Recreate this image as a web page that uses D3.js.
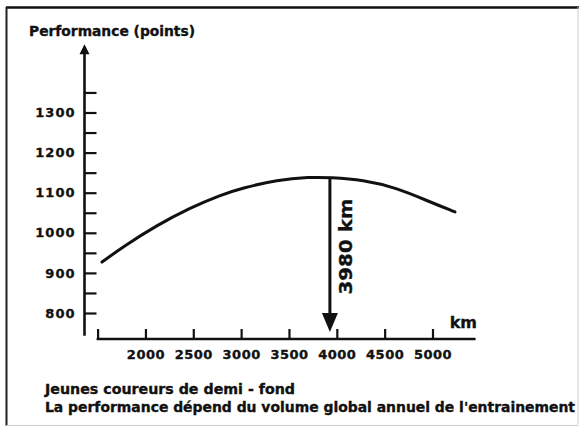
<!DOCTYPE html>
<html>
<head>
<meta charset="utf-8">
<script src="https://cdn.jsdelivr.net/npm/d3@7"></script>
<style>
  html, body { margin: 0; padding: 0; background: #fff; }
  svg { display: block; }
  text { font-family: "DejaVu Sans", sans-serif; font-weight: bold; fill: #111; stroke: #111; stroke-width: 0.35px; }
</style>
</head>
<body>
<svg id="chart" width="581" height="428"></svg>
<script>
// ---- data ----
const distanceKm = [1546, 1765, 2121, 2466, 2779, 3019, 3375, 3719, 3930, 4273, 4629, 4973, 5235];
const performance = [927, 965, 1019, 1062, 1094, 1112, 1132, 1139, 1138, 1132, 1112, 1077, 1052];
const xTicks = [1500, 2000, 2500, 3000, 3500, 4000, 4500, 5000];
const xTickLabels = ["", "2000", "2500", "3000", "3500", "4000", "4500", "5000"];
const yTicks = [800, 850, 900, 950, 1000, 1050, 1100, 1150, 1200, 1250, 1300, 1350];
const yTickLabels = ["800", "", "900", "", "1000", "", "1100", "", "1200", "", "1300", ""];
const peakKm = 3980;
const peakLabel = "3980 km";
const yTitle = "Performance (points)";
const xUnit = "km";
const captions = ["Jeunes coureurs de demi - fond",
                  "La performance dépend du volume global annuel de l'entrainement"];

// ---- scales ----
const x = d3.scaleLinear().domain([1500, 5000]).range([97.6, 432.5]);
const y = d3.scaleLinear().domain([800, 1300]).range([313, 112.5]);

const svg = d3.select("#chart");

// frame
svg.append("line").attr("x1", 6).attr("x2", 579).attr("y1", 7.5).attr("y2", 7.5)
  .attr("stroke", "#111").attr("stroke-width", 2.5);
svg.append("line").attr("x1", 6.5).attr("x2", 6.5).attr("y1", 7).attr("y2", 426)
  .attr("stroke", "#222").attr("stroke-width", 2);
svg.append("line").attr("x1", 578).attr("x2", 578).attr("y1", 7).attr("y2", 425)
  .attr("stroke", "#ccc").attr("stroke-width", 1);
svg.append("line").attr("x1", 6).attr("x2", 578).attr("y1", 425.5).attr("y2", 425.5)
  .attr("stroke", "#ccc").attr("stroke-width", 1);

// y axis line with arrow
const yAxisX = 84.5;
svg.append("line")
  .attr("x1", yAxisX).attr("x2", yAxisX)
  .attr("y1", y(743)).attr("y2", y(1450))
  .attr("stroke", "#111").attr("stroke-width", 2.6);
svg.append("path")
  .attr("d", `M${yAxisX - 5},${y(1445)} L${yAxisX},${y(1470)} L${yAxisX + 5},${y(1445)} Z`)
  .attr("fill", "#111");

// y axis ticks
const yAxis = d3.axisLeft(y)
  .tickValues(yTicks)
  .tickSizeInner(-12).tickSizeOuter(0).tickPadding(9)
  .tickFormat((d, i) => yTickLabels[i]);
const gy = svg.append("g").attr("transform", `translate(${yAxisX},0)`).call(yAxis);
gy.select(".domain").remove();
gy.selectAll(".tick line").attr("stroke", "#111").attr("stroke-width", 2.2);
gy.selectAll(".tick text").attr("font-size", 13).attr("font-family", "DejaVu Sans")
  .attr("font-weight", "bold").attr("fill", "#111").attr("letter-spacing", 1);

// x axis
const xAxisY = 339;
const xAxis = d3.axisBottom(x)
  .tickValues(xTicks)
  .tickSizeInner(-10).tickSizeOuter(0).tickPadding(11)
  .tickFormat((d, i) => xTickLabels[i]);
const gx = svg.append("g").attr("transform", `translate(0,${xAxisY})`).call(xAxis);
gx.select(".domain").remove();
gx.selectAll(".tick line").attr("stroke", "#111").attr("stroke-width", 2.2);
gx.selectAll(".tick text").attr("font-size", 13).attr("font-family", "DejaVu Sans")
  .attr("font-weight", "bold").attr("fill", "#111").attr("letter-spacing", 0.5);
svg.append("line")
  .attr("x1", x(1500) - 1).attr("x2", x(5450))
  .attr("y1", xAxisY).attr("y2", xAxisY)
  .attr("stroke", "#111").attr("stroke-width", 2.6);

// unit label
svg.append("text").attr("x", 477).attr("y", 328)
  .attr("text-anchor", "end").attr("font-size", 16).text(xUnit);

// y title
svg.append("text").attr("x", 29).attr("y", 36)
  .attr("font-size", 13.5).attr("textLength", 166).attr("lengthAdjust", "spacingAndGlyphs")
  .text(yTitle);

// curve
const pts = distanceKm.map((d, i) => [x(d), y(performance[i])]);
svg.append("path")
  .attr("d", d3.line().curve(d3.curveBasis)(pts))
  .attr("fill", "none").attr("stroke", "#111").attr("stroke-width", 3)
  .attr("stroke-linecap", "round");

// peak arrow
const peakVal = 1138;
const ax = x(peakKm) - 5;
svg.append("line").attr("x1", ax).attr("x2", ax)
  .attr("y1", y(peakVal)).attr("y2", 318)
  .attr("stroke", "#111").attr("stroke-width", 3);
svg.append("path")
  .attr("d", `M${ax - 8},313 L${ax},332 L${ax + 8},313 Z`)
  .attr("fill", "#111");
svg.append("text")
  .attr("transform", `translate(${ax + 22},246.5) rotate(-90)`)
  .attr("text-anchor", "middle").attr("font-size", 18.5)
  .attr("textLength", 96).attr("lengthAdjust", "spacingAndGlyphs")
  .text(peakLabel);

// captions
svg.append("text").attr("x", 45).attr("y", 394).attr("font-size", 13.5)
  .attr("textLength", 250).attr("lengthAdjust", "spacingAndGlyphs").text(captions[0]);
svg.append("text").attr("x", 45).attr("y", 412).attr("font-size", 13.5)
  .attr("textLength", 530).attr("lengthAdjust", "spacingAndGlyphs").text(captions[1]);
</script>
</body>
</html>
